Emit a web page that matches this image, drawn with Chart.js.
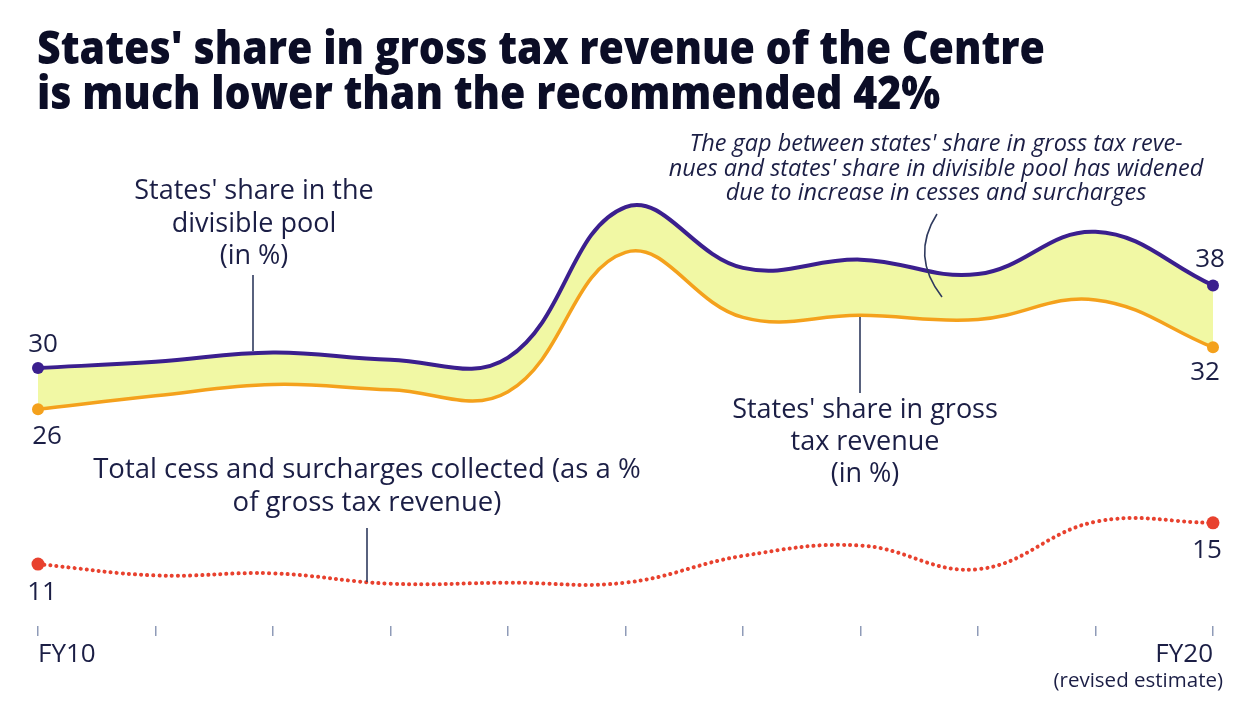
<!DOCTYPE html>
<html>
<head>
<meta charset="utf-8">
<script src="https://cdn.jsdelivr.net/npm/chart.js@4.4.2/dist/chart.umd.min.js"></script>
<style>
  html, body { margin: 0; padding: 0; background: #fff; }
  #wrap { width: 1250px; height: 702px; }
</style>
</head>
<body>
<div id="wrap"><canvas id="chart" width="1250" height="702"></canvas></div>
<script>
const years = ['FY10', 'FY11', 'FY12', 'FY13', 'FY14', 'FY15', 'FY16', 'FY17', 'FY18', 'FY19', 'FY20'];
const divisiblePool = [30, 30.6, 31.5, 30.8, 31.0, 45.6, 39.7, 40.5, 39.1, 43.2, 38];
const grossTaxShare = [26, 27.3, 28.4, 27.9, 27.7, 41.2, 34.9, 35.1, 34.7, 36.6, 32];
const cessShare = [11, 9.9, 10.1, 9.1, 9.2, 9.2, 11.8, 12.8, 10.5, 15.1, 15];

const titleLines = ["States' share in gross tax revenue of the Centre", 'is much lower than the recommended 42%'];
const poolNote = ["States' share in the", 'divisible pool', '(in %)'];
const gapNote = ["The gap between states' share in gross tax reve-", "nues and states' share in divisible pool has widened", 'due to increase in cesses and surcharges'];
const grossNote = ["States' share in gross", 'tax revenue', '(in %)'];
const cessNote = ['Total cess and surcharges collected (as a %', 'of gross tax revenue)'];
const lastTickNote = '(revised estimate)';

const textColor = '#1b1e45';
const purple = '#3b1f8e';
const orange = '#f4a11c';
const red = '#e8412e';

const endRadius = r => years.map((_, i) => (i === 0 || i === years.length - 1) ? r : 0);

function drawLines(ctx, arr, x, y0, lh) {
  arr.forEach((t, i) => ctx.fillText(t, x, y0 + i * lh));
}

function leader(ctx, x1, y1, x2, y2) {
  ctx.beginPath();
  ctx.moveTo(x1, y1);
  ctx.lineTo(x2, y2);
  ctx.stroke();
}

const annotations = {
  id: 'annotations',
  afterDraw(chart) {
    const ctx = chart.ctx;
    ctx.save();

    // title, squeezed a little to match the condensed headline face
    ctx.fillStyle = '#0b0d26';
    ctx.textAlign = 'left';
    ctx.textBaseline = 'alphabetic';
    ctx.font = '800 46px "Open Sans"';
    const w = ctx.measureText(titleLines[0]).width;
    const sx = 1008 / w;
    titleLines.forEach((t, i) => {
      ctx.save();
      ctx.translate(37, 64 + i * 45);
      ctx.scale(sx, 1);
      ctx.fillText(t, 0, 0);
      ctx.restore();
    });

    // notes
    ctx.fillStyle = textColor;
    ctx.textAlign = 'center';
    ctx.font = '27px "Open Sans"';
    drawLines(ctx, poolNote, 254, 199, 32.5);
    drawLines(ctx, grossNote, 865, 418, 32);
    ctx.font = '27.5px "Open Sans"';
    drawLines(ctx, cessNote, 367, 478, 33);
    ctx.font = 'italic 23.5px "Open Sans"';
    drawLines(ctx, gapNote, 936, 151, 24.5);

    // leader lines
    ctx.strokeStyle = '#2f3a5e';
    ctx.lineWidth = 1.6;
    leader(ctx, 253, 275, 253, 351);
    leader(ctx, 860, 317, 860, 393);
    leader(ctx, 367, 528, 367, 582);
    ctx.beginPath();
    ctx.moveTo(937, 214);
    ctx.quadraticCurveTo(910, 256, 942, 297);
    ctx.stroke();

    // end values
    ctx.font = '500 26px "Open Sans"';
    const ends = [
      [0, 0, 5, -16], [0, years.length - 1, -3, -18],
      [1, 0, 9, 35], [1, years.length - 1, -8, 33],
      [2, 0, 4, 36], [2, years.length - 1, -6, 35]
    ];
    ends.forEach(([d, i, dx, dy]) => {
      const pt = chart.getDatasetMeta(d).data[i];
      ctx.fillText(String(chart.data.datasets[d].data[i]), pt.x + dx, pt.y + dy);
    });

    // note under the last tick
    const xs = chart.scales.x;
    ctx.textAlign = 'right';
    ctx.font = '20.5px "Open Sans"';
    ctx.fillText(lastTickNote, xs.getPixelForValue(years.length - 1) + 10, 687);

    ctx.restore();
  }
};

new Chart(document.getElementById('chart'), {
  type: 'line',
  data: {
    labels: years,
    datasets: [
      {
        label: "States' share in the divisible pool",
        data: divisiblePool,
        borderColor: purple,
        borderWidth: 4,
        backgroundColor: '#f1f8a4',
        fill: '+1',
        tension: 0.4,
        pointRadius: endRadius(6),
        pointHoverRadius: 0,
        pointBackgroundColor: purple,
        pointBorderWidth: 0,
        clip: false
      },
      {
        label: "States' share in gross tax revenue",
        data: grossTaxShare,
        borderColor: orange,
        borderWidth: 3.5,
        fill: false,
        tension: 0.4,
        pointRadius: endRadius(6),
        pointHoverRadius: 0,
        pointBackgroundColor: orange,
        pointBorderWidth: 0,
        clip: false
      },
      {
        label: 'Total cess and surcharges collected',
        data: cessShare,
        borderColor: red,
        borderWidth: 4,
        borderDash: [0.1, 6],
        borderCapStyle: 'round',
        fill: false,
        tension: 0.4,
        pointRadius: endRadius(6.5),
        pointHoverRadius: 0,
        pointBackgroundColor: red,
        pointBorderWidth: 0,
        clip: false
      }
    ]
  },
  options: {
    responsive: false,
    animation: false,
    layout: {
      padding: { left: 38, right: 37, top: 110, bottom: 0 }
    },
    scales: {
      x: {
        grid: {
          drawOnChartArea: false,
          drawTicks: true,
          tickLength: 10,
          color: '#8f9bb8',
          lineWidth: 1.5
        },
        border: { display: false },
        ticks: {
          autoSkip: false,
          maxRotation: 0,
          align: 'inner',
          padding: 3,
          color: textColor,
          font: { family: 'Open Sans', size: 26 },
          callback: (v, i) => (i === 0 || i === years.length - 1) ? years[i] : ''
        },
        afterFit: scale => { scale.height = 76; }
      },
      y: {
        display: false,
        min: 5,
        max: 55
      }
    },
    plugins: {
      legend: { display: false },
      tooltip: { enabled: false },
      filler: { drawTime: 'beforeDatasetsDraw' }
    }
  },
  plugins: [annotations]
});
</script>
</body>
</html>
